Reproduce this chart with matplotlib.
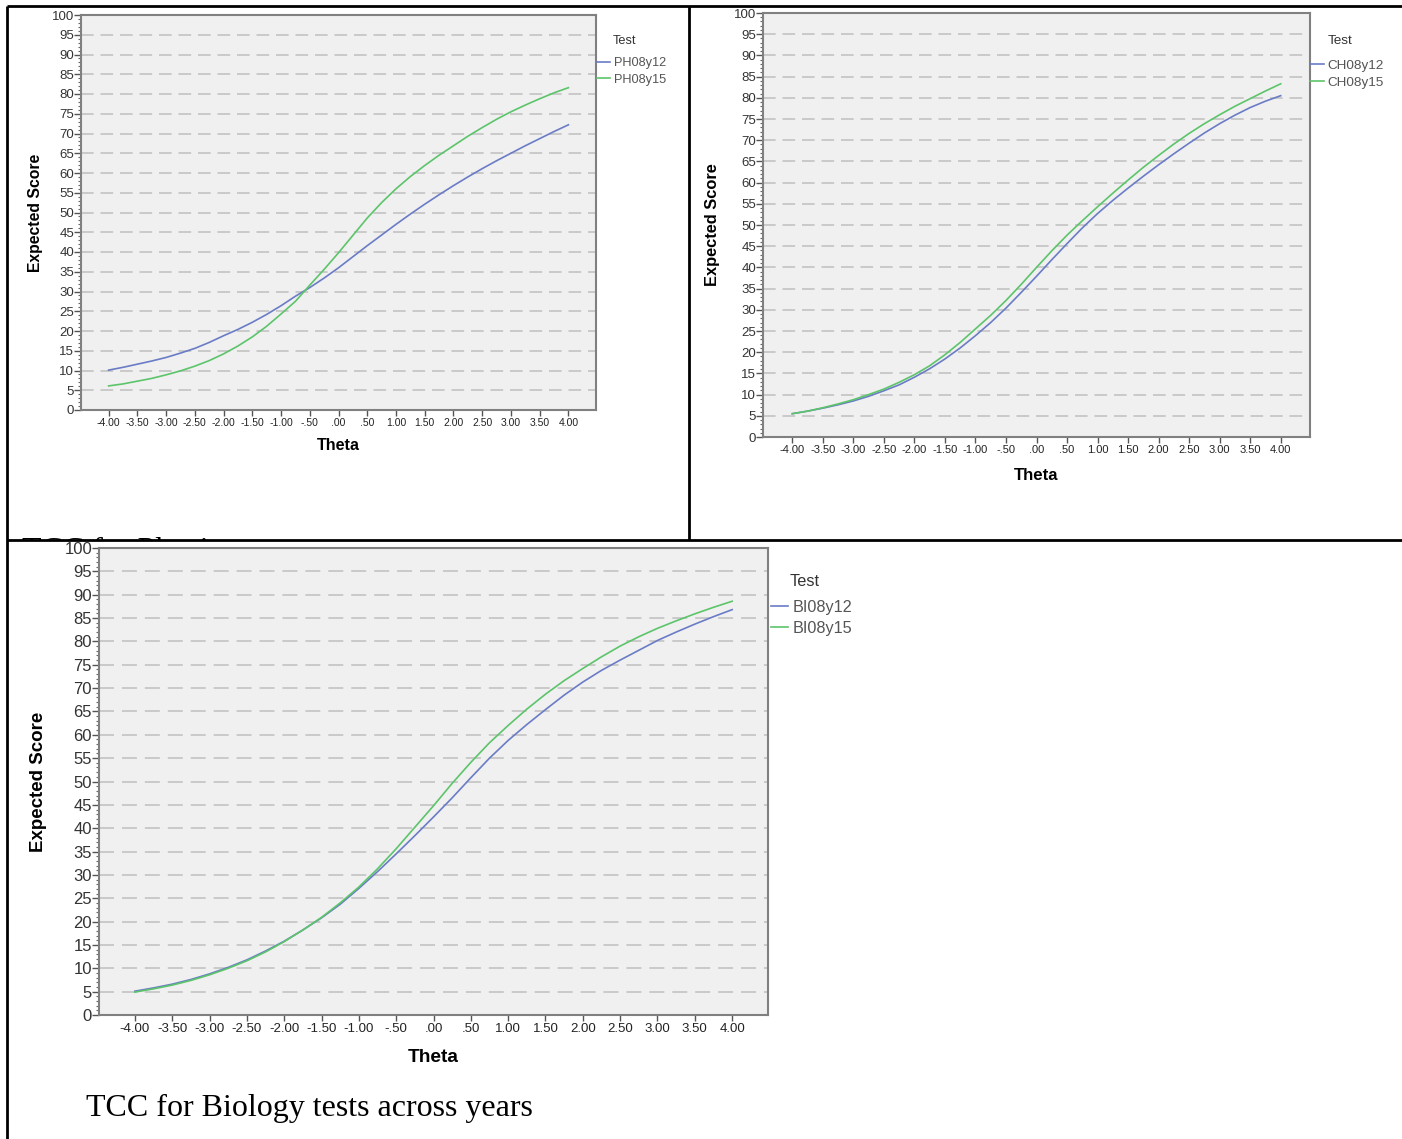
import matplotlib
matplotlib.use('Agg')
import matplotlib.pyplot as plt
from matplotlib.patches import Rectangle
from matplotlib.ticker import MultipleLocator, FixedLocator

# data (expected score at theta steps of 0.25)
theta = [-4.0, -3.75, -3.5, -3.25, -3.0, -2.75, -2.5, -2.25, -2.0,
         -1.75, -1.5, -1.25, -1.0, -0.75, -0.5, -0.25, 0.0,
         0.25, 0.5, 0.75, 1.0, 1.25, 1.5, 1.75, 2.0,
         2.25, 2.5, 2.75, 3.0, 3.25, 3.5, 3.75, 4.0]

ph08y12 = [10.1, 10.8, 11.6, 12.4, 13.3, 14.4, 15.6, 17.1, 18.8,
           20.4, 22.2, 24.2, 26.4, 28.8, 31.0, 33.4, 36.0,
           38.8, 41.6, 44.3, 47.0, 49.6, 52.1, 54.5, 56.8,
           59.0, 61.1, 63.1, 65.0, 66.9, 68.7, 70.5, 72.2]
ph08y15 = [6.1, 6.6, 7.3, 8.0, 8.9, 9.9, 11.1, 12.5, 14.2,
           16.2, 18.5, 21.2, 24.3, 27.5, 31.6, 35.6, 39.8,
           44.2, 48.6, 52.5, 56.0, 59.1, 61.9, 64.5, 66.9,
           69.3, 71.5, 73.6, 75.5, 77.2, 78.8, 80.3, 81.6]

ch08y12 = [5.5, 6.1, 6.8, 7.6, 8.5, 9.6, 10.9, 12.3, 14.1,
           16.1, 18.4, 21.0, 23.9, 27.0, 30.4, 34.1, 37.9,
           41.8, 45.6, 49.3, 52.7, 55.8, 58.7, 61.5, 64.2,
           66.8, 69.3, 71.7, 73.9, 75.9, 77.7, 79.2, 80.5]
ch08y15 = [5.5, 6.1, 6.9, 7.8, 8.8, 10.0, 11.3, 12.9, 14.7,
           16.8, 19.4, 22.3, 25.5, 28.7, 32.2, 36.0, 40.0,
           43.9, 47.6, 51.0, 54.3, 57.5, 60.6, 63.6, 66.4,
           69.1, 71.6, 73.9, 76.0, 78.0, 79.8, 81.6, 83.3]

bi08y12 = [5.1, 5.8, 6.6, 7.6, 8.8, 10.2, 11.8, 13.7, 15.8,
           18.2, 20.8, 23.7, 27.1, 30.7, 34.5, 38.4, 42.4,
           46.5, 50.8, 55.0, 58.8, 62.2, 65.4, 68.5, 71.3,
           73.8, 76.0, 78.1, 80.2, 82.0, 83.7, 85.3, 86.8]
bi08y15 = [4.9, 5.6, 6.4, 7.4, 8.6, 10.0, 11.6, 13.5, 15.7,
           18.2, 20.9, 24.0, 27.4, 31.3, 35.6, 40.2, 44.8,
           49.6, 54.1, 58.3, 62.0, 65.5, 68.7, 71.6, 74.2,
           76.7, 79.0, 81.0, 82.8, 84.4, 85.9, 87.3, 88.6]

x_ticks = [-4.0, -3.5, -3.0, -2.5, -2.0, -1.5, -1.0, -0.5, 0.0,
           0.5, 1.0, 1.5, 2.0, 2.5, 3.0, 3.5, 4.0]

BLUE = '#6a7cc6'
GREEN = '#5cc46a'

W, H = 1402, 1139
fig = plt.figure(figsize=(W / 100, H / 100), dpi=100)
fig.patch.set_facecolor('white')
plt.rcParams['font.family'] = ['Liberation Sans', 'DejaVu Sans']


def px_box(left, top, right, bottom):
    return [left / W, 1 - bottom / H, (right - left) / W, (bottom - top) / H]


def tick_fmt(v):
    s = f"{v:.2f}"
    return s.replace('0.', '.', 1) if s.lstrip('-').startswith('0.') else s


# overlay for the document table and captions (kept under the charts)
ov = fig.add_axes([0, 0, 1, 1], zorder=-1)
ov.set_xlim(0, W)
ov.set_ylim(H, 0)
ov.axis('off')
ov.text(22, 559, 'TCC for Physics', family='Liberation Serif', fontsize=23,
        va='baseline', zorder=1)
ov.add_patch(Rectangle((8, 541), 690, 60, color='white', zorder=2))
ov.text(86, 1116, 'TCC for Biology tests across years', family='Liberation Serif',
        fontsize=23, va='baseline', zorder=3)
for xs, ys in [([7, W], [6, 6]), ([7, 7], [6, H]), ([689, 689], [6, 540]),
               ([7, W], [540, 540])]:
    ov.plot(xs, ys, color='black', lw=2, zorder=4, solid_capstyle='butt')


def make_chart(box, names, y1, y2, fs, ylab_x, theta_dy, leg, dash):
    ytick_fs, xtick_fs, lab_fs, leg_fs = fs
    ax = fig.add_axes(px_box(*box))
    ax.set_facecolor('#f0f0f0')
    ax.plot(theta, y1, color=BLUE, lw=1.2, label=names[0], zorder=3)
    ax.plot(theta, y2, color=GREEN, lw=1.2, label=names[1], zorder=3)
    ax.set_xlim(-4.48, 4.48)
    ax.set_ylim(0, 100)

    ax.yaxis.set_major_locator(MultipleLocator(5))
    ax.yaxis.set_minor_locator(MultipleLocator(1))
    ax.xaxis.set_major_locator(FixedLocator(x_ticks))
    ax.set_xticklabels([tick_fmt(v) for v in x_ticks])
    ax.tick_params(axis='y', which='major', length=5, width=1, color='#555555',
                   labelsize=ytick_fs, labelcolor='#333333', pad=0)
    ax.tick_params(axis='y', which='minor', length=2.5, width=0.8, color='#666666')
    ax.tick_params(axis='x', which='major', length=4, width=1, color='#555555',
                   labelsize=xtick_fs, labelcolor='#222222', pad=2)
    ax.grid(axis='y', which='major', color='#c6c6c6', lw=1.3, ls=(0, dash), zorder=1)

    for sp in ax.spines.values():
        sp.set_color('#808080')
        sp.set_linewidth(1.5)

    ax.text(ylab_x, 0.5, 'Expected Score', rotation=90, transform=ax.transAxes,
            ha='center', va='center', fontsize=lab_fs, fontweight='bold')
    ax.text(0.5, -theta_dy / (box[3] - box[1]), 'Theta', transform=ax.transAxes,
            ha='center', va='center', fontsize=lab_fs + 0.3, fontweight='bold')

    # legend: title sits over the labels, entries anchored at their midpoint
    line_x, text_x, title_y, mid_y = leg
    lg = ax.legend(loc='center left', bbox_to_anchor=(line_x / W, 1 - mid_y / H),
                   bbox_transform=fig.transFigure, frameon=False,
                   fontsize=leg_fs, labelcolor='#555555',
                   handlelength=1.05, handletextpad=0.25, labelspacing=0.35,
                   borderpad=0, borderaxespad=0)
    fig.text(text_x / W, 1 - title_y / H, 'Test', fontsize=leg_fs,
             color='#333333', ha='left', va='center')
    return ax


make_chart((81, 15, 596, 410), ['PH08y12', 'PH08y15'], ph08y12, ph08y15,
           (9.5, 7.5, 11.3, 9.2), -0.089, 36, (597, 613, 41, 71.5), (7, 3.8))
make_chart((763, 13, 1310, 437), ['CH08y12', 'CH08y15'], ch08y12, ch08y15,
           (9.5, 8, 11.8, 9.7), -0.093, 38, (1310, 1328, 41, 74), (7, 3.8))
make_chart((99, 548, 768, 1015), ['BI08y12', 'BI08y15'], bi08y12, bi08y15,
           (12, 9.5, 13.5, 11.7), -0.091, 42, (771, 790, 582, 618), (8.3, 4.4))

fig.savefig('out.png', dpi=100)
